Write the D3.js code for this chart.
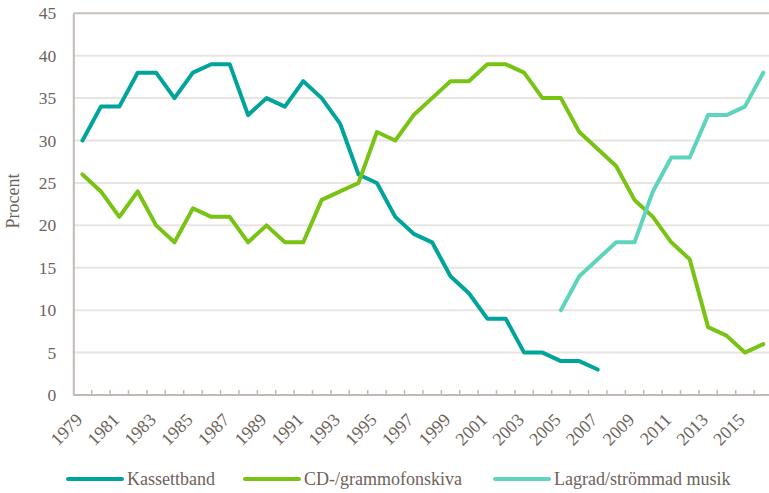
<!DOCTYPE html>
<html><head><meta charset="utf-8">
<script src="https://cdn.jsdelivr.net/npm/d3@7"></script>
<style>
html,body{margin:0;padding:0;background:#fff;overflow:hidden}
svg text{font-family:"Liberation Serif","Tinos","Times New Roman",serif !important;fill:#6e625a}
</style></head>
<body>
<svg id="c" width="769" height="493" style="font-family:'Liberation Serif',serif"></svg>
<script>
const years = d3.range(1979, 2017);
const kassettband = [30,34,34,38,38,35,38,39,39,33,35,34,37,35,32,26,25,21,19,18,14,12,9,9,5,5,4,4,3];
const cdSkiva = [26,24,21,24,20,18,22,21,21,18,20,18,18,23,24,25,31,30,33,35,37,37,39,39,38,35,35,31,29,27,23,21,18,16,8,7,5,6];
const lagradStartYear = 2005;
const lagrad = [10,14,16,18,18,24,28,28,33,33,34,38];
const yTicks = [0,5,10,15,20,25,30,35,40,45];
const xLabelYears = years.filter(y => (y - 1979) % 2 === 0);
const seriesNames = ["Kassettband","CD-/grammofonskiva","Lagrad/strömmad musik"];
const colors = ["#00a49a","#78c314","#5fd4bd"];

const series = [
  kassettband.map((v,i)=>({year:1979+i, value:v})),
  cdSkiva.map((v,i)=>({year:1979+i, value:v})),
  lagrad.map((v,i)=>({year:lagradStartYear+i, value:v}))
];

const FONT = '"Liberation Serif","Tinos","Times New Roman",serif';
const svg = d3.select("#c");
const L = 73.3, T = 13.3, B = 395, R = L + 38*18.4;
const x = d3.scaleBand().domain(years).range([L, R]).padding(0);
const y = d3.scaleLinear().domain([0,45]).range([B, T]);
const cx = yr => x(yr) + x.bandwidth()/2;

// gridlines
svg.append("g").selectAll("line").data(yTicks.filter(t=>t>0 && t<45)).join("line")
  .attr("x1", L).attr("x2", R).attr("y1", d=>y(d)).attr("y2", d=>y(d))
  .attr("stroke", "#e8e4e1").attr("stroke-width", 2);
// top border
svg.append("line").attr("x1", L).attr("x2", R).attr("y1", y(45)).attr("y2", y(45))
  .attr("stroke", "#c9c1bc").attr("stroke-width", 2);

// y axis
const yAxis = d3.axisLeft(y).tickValues(yTicks).tickSize(0).tickPadding(17);
const gy = svg.append("g").attr("transform", `translate(${L},0)`).call(yAxis)
  .attr("font-family", FONT).attr("font-size", 17);
gy.select(".domain").attr("stroke", "#c2b9b4").attr("stroke-width", 2);
gy.selectAll("text").attr("fill", "#6e625a").style("font-family", FONT).style("font-size", "17.5px");

// x axis line and ticks
svg.append("line").attr("x1", L).attr("x2", R).attr("y1", B).attr("y2", B)
  .attr("stroke", "#c2b9b4").attr("stroke-width", 2);
svg.append("g").selectAll("line").data(years.slice(1)).join("line")
  .attr("x1", d=>x(d)).attr("x2", d=>x(d)).attr("y1", B).attr("y2", B-5)
  .attr("stroke", "#c2b9b4").attr("stroke-width", 1.5);

// x labels
svg.append("g").selectAll("text").data(xLabelYears).join("text")
  .attr("transform", d=>`translate(${cx(d)+1},${B+26}) rotate(-45)`)
  .attr("text-anchor", "end").style("font-family", FONT).style("font-size", "18px").text(d=>d);

// y label
svg.append("text").attr("transform", `translate(19,201) rotate(-90)`)
  .attr("text-anchor", "middle").style("font-family", FONT).style("font-size", "18px").text("Procent");

// lines
const line = d3.line().x(d=>cx(d.year)).y(d=>y(d.value));
series.forEach((s,i)=>{
  svg.append("path").datum(s).attr("d", line).attr("fill","none")
    .attr("stroke", colors[i]).attr("stroke-width", 4)
    .attr("stroke-linejoin","round").attr("stroke-linecap","round");
});

// legend
const legX = [68, 245, 495];
const lg = svg.append("g");
seriesNames.forEach((n,i)=>{
  lg.append("line").attr("x1", legX[i]).attr("x2", legX[i]+54).attr("y1", 479).attr("y2", 479)
    .attr("stroke", colors[i]).attr("stroke-width", 4).attr("stroke-linecap","round");
  lg.append("text").attr("x", legX[i]+59).attr("y", 485).style("font-family", FONT).style("font-size", "18px").text(n);
});
</script>
</body></html>
